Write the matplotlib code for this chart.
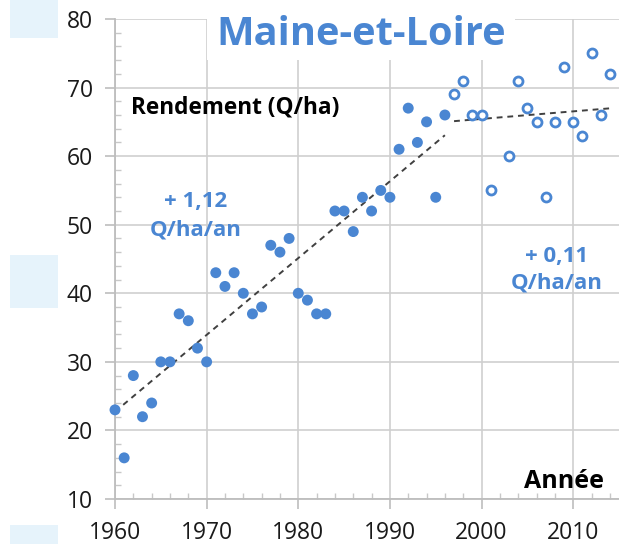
import numpy as np
import matplotlib.pyplot as plt
from matplotlib.patches import Rectangle
from matplotlib.ticker import MultipleLocator

# Rendement du blé, Maine-et-Loire (quintaux / ha)
annees_avant = list(range(1960, 1997))
rendement_avant = [23, 16, 28, 22, 24, 30, 30, 37, 36, 32,
                   30, 43, 41, 43, 40, 37, 38, 47, 46, 48,
                   40, 39, 37, 37, 52, 52, 49, 54, 52, 55,
                   54, 61, 67, 62, 65, 54, 66]

annees_apres = [1997, 1998, 1999, 2000, 2001, 2003, 2004, 2005, 2006,
                2007, 2008, 2009, 2010, 2011, 2012, 2013, 2014]
rendement_apres = [69, 71, 66, 66, 55, 60, 71, 67, 65,
                   54, 65, 73, 65, 63, 75, 66, 72]

pente_avant = 1.12
pente_apres = 0.11

bleu = '#4a86d2'
gris = '#cfcfcf'
police = 'Open Sans'

plt.rcParams['font.family'] = police

fig = plt.figure(figsize=(6.19, 5.44), dpi=100)

# petits carrés bleu pâle en marge gauche
for y0, h in [(506, 38), (236, 53), (0, 19)]:
    fig.patches.append(Rectangle((10 / 619, y0 / 544), 48 / 619, h / 544,
                                 transform=fig.transFigure,
                                 facecolor='#e6f3fb', edgecolor='none'))

ax = fig.add_axes([115 / 619, 45 / 544, 504 / 619, 480 / 544])

ax.scatter(annees_avant, rendement_avant, s=62, color=bleu,
           edgecolors='none', zorder=3, clip_on=False)
ax.scatter(annees_apres, rendement_apres, s=42, facecolors='white',
           edgecolors=bleu, linewidths=2.0, zorder=3, clip_on=False)


def tendance(x, y, pente):
    x = np.asarray(x, dtype=float)
    y = np.asarray(y, dtype=float)
    b = y.mean() - pente * x.mean()
    xs = np.array([x.min(), x.max()])
    return xs, pente * xs + b


xs, ys = tendance(annees_avant, rendement_avant, pente_avant)
ax.plot(xs, ys, color='#404040', lw=1.4, ls=(0, (3, 2.5)), zorder=2)
xs, ys = tendance(annees_apres, rendement_apres, pente_apres)
ax.plot(xs, ys, color='#404040', lw=1.4, ls=(0, (3, 2.5)), zorder=2)

ax.set_xlim(1960, 2015)
ax.set_ylim(10, 80)
ax.xaxis.set_major_locator(MultipleLocator(10))
ax.xaxis.set_minor_locator(MultipleLocator(2))
ax.yaxis.set_major_locator(MultipleLocator(10))
ax.yaxis.set_minor_locator(MultipleLocator(2))
ax.grid(True, which='major', color=gris, lw=1.2)
ax.set_axisbelow(True)

for s in ['top', 'right']:
    ax.spines[s].set_visible(False)
for s in ['left', 'bottom']:
    ax.spines[s].set_color('#bdbdbd')
    ax.spines[s].set_linewidth(1.3)

ax.tick_params(which='major', direction='out', length=7, width=1.2,
               color='#bdbdbd', labelsize=16.5, labelcolor='#1a1a1a', pad=9)
ax.tick_params(which='minor', direction='in', length=4, width=1.0,
               color='#c8c8c8')

# bandeau blanc derrière le titre
ax.add_patch(Rectangle((0.1825, 0.915), 0.612, 0.2, transform=ax.transAxes,
                       facecolor='white', edgecolor='none', zorder=1,
                       clip_on=False))
ax.text(0.488, 0.967, 'Maine-et-Loire', transform=ax.transAxes,
        ha='center', va='center', fontsize=28.6, fontweight='bold',
        color=bleu, zorder=4)

ax.text(0.239, 0.816, 'Rendement (Q/ha)', transform=ax.transAxes,
        ha='center', va='center', fontsize=16.3, fontweight='bold',
        color='black')
ax.text(0.891, 0.036, 'Année', transform=ax.transAxes,
        ha='center', va='center', fontsize=18, fontweight='bold',
        color='black')

ax.text(0.16, 0.59, '+ 1,12\nQ/ha/an', transform=ax.transAxes,
        ha='center', va='center', fontsize=16, fontweight='bold',
        color=bleu, linespacing=1.45)
ax.text(0.876, 0.477, '+ 0,11\nQ/ha/an', transform=ax.transAxes,
        ha='center', va='center', fontsize=16, fontweight='bold',
        color=bleu, linespacing=1.32)

fig.savefig('out.png', dpi=100)
